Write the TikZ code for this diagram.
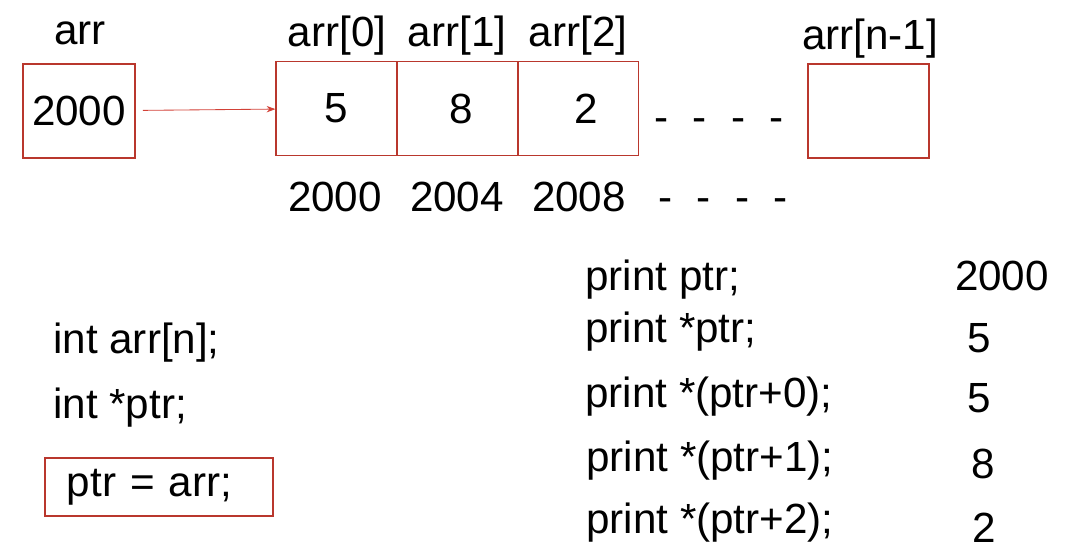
\documentclass[tikz,border=0pt]{standalone}
\usepackage{fontspec}
\setmainfont{Liberation Sans}
\usepackage{tikz}
\usetikzlibrary{shapes,positioning,arrows.meta}
\definecolor{boxred}{RGB}{185,55,45}
\definecolor{arrowred}{RGB}{210,65,55}
\tikzset{rec/.style={rectangle,draw=boxred,line width=0.8pt,minimum height=2.33cm,minimum width=3.025cm,inner sep=0pt}}
\tikzset{txt/.style={inner sep=0pt}}

\begin{document}
\begin{tikzpicture}[>={Stealth[length=0.22cm,width=0.16cm]}, x=0.025cm, y=-0.025cm, font=\fontsize{30pt}{36pt}\selectfont]
        \useasboundingbox (0,0) rectangle (1078,557);
        % array and pointer boxes
        \node[rec, minimum width=2.8cm, minimum height=2.35cm] (p) at (79,111) {2000};
        \node[rec] (a0) at (336.5,108.5) {5};
        \node[rec] (a1) at (457.5,108.5) {\hspace{0.2cm}8};
        \node[rec] (a2) at (578,108.5) {\hspace{0.4cm}2};
        \node[rec, minimum height=2.35cm] (an) at (868.5,111) {};
        \node[txt] (d1) at (719,125) {-\hspace{0.6cm}-\hspace{0.6cm}-\hspace{0.6cm}-};

        % labels
        \node[txt, anchor=base] (lp) at (80,45) {arr};
        \node[txt, anchor=base] (l0) at (337,47) {arr[0]};
        \node[txt, anchor=base] (l1) at (457,47) {arr[1]};
        \node[txt, anchor=base] (l2) at (578,47) {arr[2]};
        \node[txt, anchor=base] (ln) at (870,50) {arr[n-1]};

        % addresses
        \node[txt, anchor=base] (m0) at (335,212) {2000};
        \node[txt, anchor=base] (m1) at (457,212) {2004};
        \node[txt, anchor=base] (m2) at (579,212) {2008};
        \node[txt] (d2) at (723,205) {-\hspace{0.6cm}-\hspace{0.6cm}-\hspace{0.6cm}-};

        % declarations
        \node[txt, anchor=base west] (c1) at (53,353) {int arr[n];};
        \node[txt, anchor=base west] (c2) at (53,418) {int *ptr;};
        \node[rec, minimum width=5.7cm, minimum height=1.45cm, inner xsep=0.55cm, text width=4.6cm, align=left] (c3) at (159,487) {ptr = arr;};

        % print statements
        \node[txt, anchor=base west] (s1) at (585,290) {print ptr;};
        \node[txt, anchor=base west] (s2) at (585,342) {print *ptr;};
        \node[txt, anchor=base west] (s3) at (585,407) {print *(ptr+0);};
        \node[txt, anchor=base west] (s4) at (586,471) {print *(ptr+1);};
        \node[txt, anchor=base west] (s5) at (586,533) {print *(ptr+2);};
        \node[txt, anchor=base] (v1) at (1002,290) {2000};
        \node[txt, anchor=base] (v2) at (979,352) {5};
        \node[txt, anchor=base] (v3) at (979,412) {5};
        \node[txt, anchor=base] (v4) at (983,478) {8};
        \node[txt, anchor=base] (v5) at (984,542) {2};

        \draw [->, arrowred, line width=0.6pt, shorten <=0.18cm] (p) to []node[]{} (a0);

    \end{tikzpicture}
\end{document}
